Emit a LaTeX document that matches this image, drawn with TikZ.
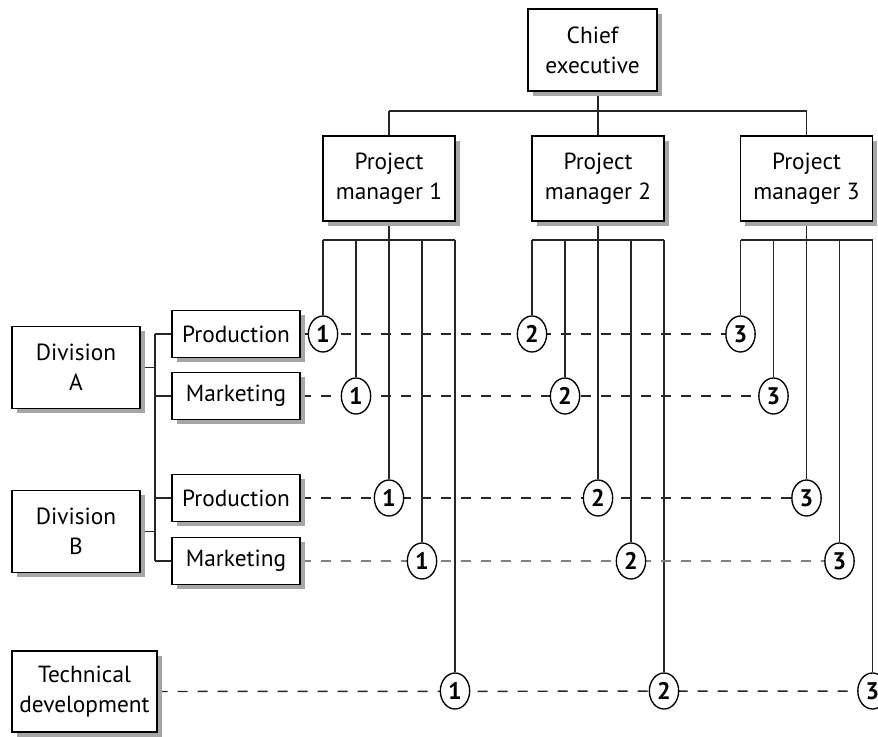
\documentclass[tikz,border=0pt]{standalone}
\usepackage{fontspec}
\setmainfont{PT Sans}
\usetikzlibrary{shapes.geometric,shadows,backgrounds}
\begin{document}
\begin{tikzpicture}[x=0.75pt,y=-0.75pt,
  box/.style={draw, line width=1pt, fill=white, align=center, inner sep=0pt,
    font=\fontsize{17.5}{22.5}\selectfont,
    drop shadow={shadow xshift=3.5pt, shadow yshift=-3.5pt, fill=black!35, opacity=1}},
  num/.style={ellipse, draw, fill=white, line width=1pt, inner sep=0pt,
    minimum width=22pt, minimum height=27pt, font=\fontsize{18}{18}\selectfont\bfseries},
  link/.style={line width=1.1pt, draw=black!85},
  dline/.style={line width=1.1pt, dash pattern=on 7.5pt off 7.5pt},
]
\useasboundingbox (0,0) rectangle (878,736);
% boxes
\node[box, minimum width=96.75pt, minimum height=61.5pt] (chief) at (592.5,50) {Chief\\executive};
\foreach \p/\cx in {1/389,2/598,3/806.5}{
  \node[box, minimum width=99pt, minimum height=63.75pt] (pm\p) at (\cx,178.5) {Project\\manager \p};
}
\node[box, minimum width=96pt, minimum height=61.5pt] (divA) at (76,367.5) {Division\\A};
\node[box, minimum width=96pt, minimum height=61.5pt] (divB) at (76,531.5) {Division\\B};
\node[box, minimum width=96pt, minimum height=35pt] (r1) at (236,334) {Production};
\node[box, minimum width=96pt, minimum height=35pt] (r2) at (236,396) {Marketing};
\node[box, minimum width=96pt, minimum height=35pt] (r3) at (236,498) {Production};
\node[box, minimum width=96pt, minimum height=35pt] (r4) at (236,561) {Marketing};
\node[box, minimum width=108.75pt, minimum height=60.75pt] (r5) at (84.5,691.5) {Technical\\development};
% circles
\foreach \r/\ry/\off in {1/334/-66,2/396/-33,3/498/0,4/561/33,5/691/66}{
  \foreach \p/\cx in {1/389,2/598,3/806.5}{
    \node[num] (c\r\p) at ({\cx+\off},\ry) {\p};
  }
}
\coordinate (hbar) at (0,111);
\coordinate (bus) at (0,240);
\coordinate (tree) at (155,0);
\begin{pgfonlayer}{background}
  \draw[link] (chief.south -| pm2) -- (pm2.north);
  \draw[link] (pm1.north |- hbar) -- (pm3.north |- hbar);
  \draw[link] (pm1.north |- hbar) -- (pm1.north);
  \draw[link] (pm3.north |- hbar) -- (pm3.north);
  \foreach \p in {1,2,3}{
    \draw[link] (pm\p.south) -- (pm\p.south |- bus);
    \draw[link] (c1\p |- bus) -- (c5\p |- bus);
    \foreach \r in {1,...,5}{
      \draw[link] (c\r\p |- bus) -- (c\r\p.north);
    }
  }
  % division tree
  \draw[link] (tree |- r1.west) -- (tree |- r4.west);
  \foreach \r in {1,2,3,4}{
    \draw[link] (tree |- r\r.west) -- (r\r.west);
  }
  \draw[link] (divA.east) -- (tree |- divA.east);
  \draw[link] (divB.east) -- (tree |- divB.east);
  % dashed rows
  \foreach \r in {1,2,3,5}{
    \draw[dline, draw=black!85] (r\r.east) -- (c\r3.center);
  }
  \draw[dline, draw=black!50] (r4.east) -- (c43.center);
\end{pgfonlayer}
\end{tikzpicture}
\end{document}
